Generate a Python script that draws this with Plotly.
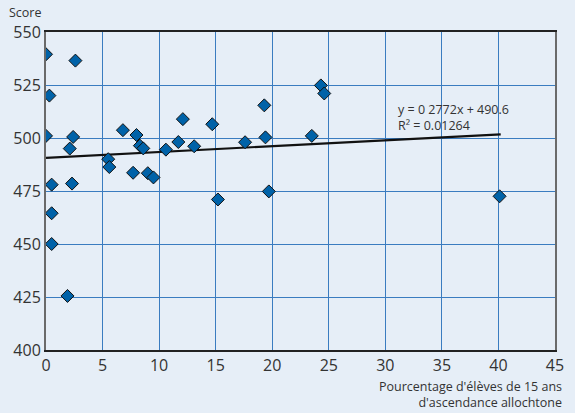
import plotly.graph_objects as go

pct_allochtone = [0.0, 0.3, 0.0, 0.5, 0.5, 0.5, 1.9, 2.6, 2.4, 2.1, 2.3,
                  5.5, 5.6, 6.8, 8.0, 8.3, 8.6, 7.7, 9.0, 9.5, 10.6, 11.7,
                  12.1, 13.1, 14.7, 15.2, 17.6, 19.3, 19.4, 19.7, 23.5,
                  24.3, 24.6, 40.1]
score = [539.5, 520.0, 501.0, 478.0, 464.5, 450.0, 425.5, 536.5, 500.5,
         495.0, 478.5, 490.0, 486.3, 503.7, 501.4, 496.4, 495.1, 483.6,
         483.4, 481.4, 494.5, 498.1, 508.9, 496.1, 506.5, 471.0, 498.0,
         515.4, 500.3, 474.8, 501.0, 524.8, 521.0, 472.5]

slope = 0.2772
intercept = 490.6
trend_x = [0.0, 40.2]
trend_y = [slope * v + intercept for v in trend_x]

x_ticks = [0, 5, 10, 15, 20, 25, 30, 35, 40, 45]
y_ticks = [400, 425, 450, 475, 500, 525, 550]

bg = "#E6EEF7"
grid = "#3A7CC0"
font = "'Open Sans', Lato, sans-serif"

fig = go.Figure()
fig.add_trace(go.Scatter(
    x=trend_x, y=trend_y, mode="lines",
    line=dict(color="#111111", width=2.2), hoverinfo="skip", showlegend=False))
fig.add_trace(go.Scatter(
    x=pct_allochtone, y=score, mode="markers",
    marker=dict(symbol="diamond", size=10, color="#0062A8",
                line=dict(color="#111111", width=1)),
    showlegend=False))

fig.update_layout(
    width=575, height=413,
    margin=dict(l=46, r=11, t=32, b=63),
    paper_bgcolor=bg, plot_bgcolor=bg,
    font=dict(family=font, color="#333333"),
    xaxis=dict(range=[0, 45], tickvals=x_ticks, showgrid=True,
               gridcolor=grid, gridwidth=1, zeroline=False,
               showline=True, linecolor="#222222", linewidth=1.5, mirror=True,
               ticks="", tickfont=dict(size=16, color="#333333")),
    yaxis=dict(range=[400, 550], tickvals=y_ticks, showgrid=True,
               gridcolor=grid, gridwidth=1, zeroline=False,
               showline=True, linecolor="#6a6a6a", linewidth=2, mirror=True,
               ticks="", tickfont=dict(size=16, color="#333333")),
    annotations=[
        dict(text="Score", xref="paper", yref="paper", x=-0.076, y=1.061,
             xanchor="left", yanchor="middle", showarrow=False,
             font=dict(size=12.5, color="#333333", family=font)),
        dict(text="Pourcentage d'élèves de 15 ans<br>d'ascendance allochtone",
             xref="paper", yref="paper", x=1.018, y=-0.082, xanchor="right",
             yanchor="top", align="right", showarrow=False,
             font=dict(size=12.5, color="#333333", family=font)),
        dict(text="y = 0 2772x + 490.6<br>R² = 0.01264",
             xref="x", yref="y", x=30.9, y=500.9, xanchor="left",
             yanchor="bottom", align="left", showarrow=False,
             font=dict(size=12.5, color="#333333", family=font)),
    ],
)

fig.write_html(
    "out.html",
    config={"displayModeBar": False},
    post_script="document.body.style.margin='0';"
                "document.body.style.background='#E6EEF7';",
)
